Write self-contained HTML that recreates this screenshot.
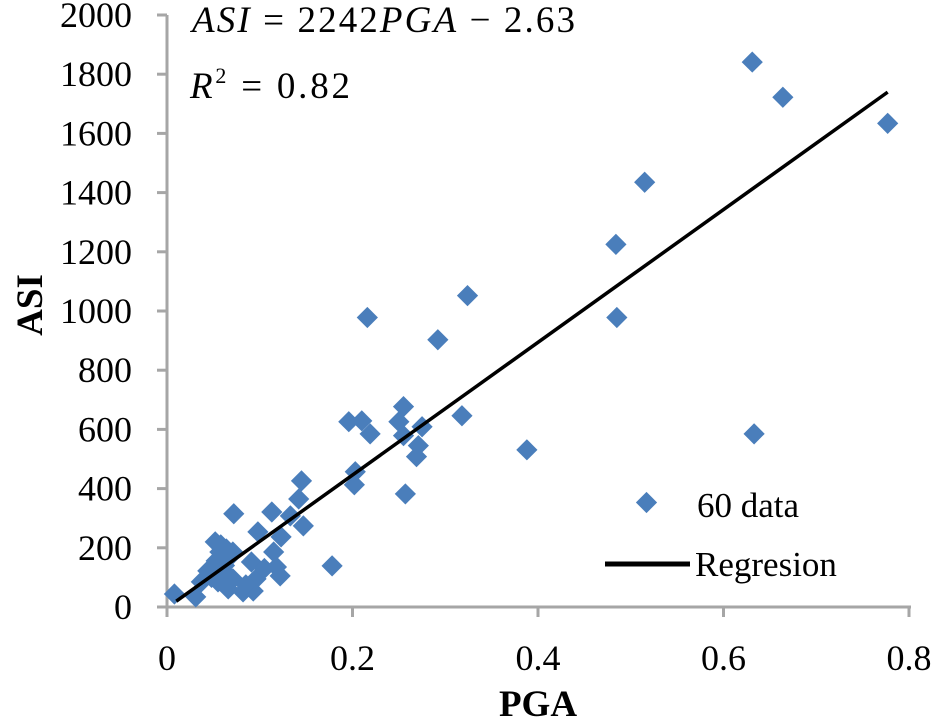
<!DOCTYPE html>
<html><head><meta charset="utf-8"><style>
body{margin:0;background:#fff}
svg text{font-family:"Liberation Serif",serif;fill:#000}
</style></head><body>
<svg width="935" height="720" xmlns="http://www.w3.org/2000/svg">
<g id="axes"></g>
<g id="pts"></g>
<g id="reg"></g>
<text x="192" y="32" font-size="37" font-style="italic" textLength="383" lengthAdjust="spacing">ASI <tspan font-style="normal">= 2242</tspan>PGA<tspan font-style="normal"> − 2.63</tspan></text>
<text x="190" y="98" font-size="37" textLength="160" lengthAdjust="spacing"><tspan font-style="italic">R</tspan><tspan dy="-15" font-size="22">2</tspan><tspan dy="15"> = 0.82</tspan></text>
<text font-size="37" font-weight="bold" text-anchor="middle" transform="translate(42,305) rotate(-90)">ASI</text>
<text x="538" y="716" font-size="37" font-weight="bold" text-anchor="middle">PGA</text>
<g>
<rect x="639" y="495" width="15" height="15" fill="#4a7ebb" transform="rotate(45 646.5 502.5)"/>
<text x="697" y="517" font-size="35">60 data</text>
<line x1="605" y1="564" x2="690" y2="564" stroke="#000" stroke-width="5"/>
<text x="695" y="576" font-size="35">Regresion</text>
</g>
</svg>
<script>
const pga=[0.008,0.031,0.037,0.044,0.052,0.057,0.064,0.071,0.053,0.06,0.066,0.071,0.066,0.055,0.082,0.093,0.096,0.091,0.072,0.098,0.115,0.118,0.122,0.123,0.113,0.133,0.147,0.142,0.145,0.178,0.196,0.21,0.219,0.203,0.202,0.255,0.25,0.255,0.257,0.275,0.271,0.269,0.318,0.292,0.324,0.216,0.388,0.484,0.485,0.515,0.631,0.664,0.777,0.633,0.048,0.062,0.085,0.105,0.068,0.058];
const asi=[44,34,85,122,220,186,196,186,156,122,105,95,61,85,51,54,95,152,315,254,186,135,105,237,321,308,274,365,426,139,626,629,585,457,413,677,626,579,382,609,545,508,646,903,1052,978,531,1225,978,1435,1841,1722,1634,585,100,140,75,130,170,210];
const xTicks=[0,0.2,0.4,0.6,0.8];
const yTicks=[0,200,400,600,800,1000,1200,1400,1600,1800,2000];
const slope=2242, intercept=-2.63, regX=[0.01,0.777];
const X0=167,X1=909,Y0=607,Y1=15;
const sx=v=>X0+(v/0.8)*(X1-X0);
const sy=v=>Y0-(v/2000)*(Y0-Y1);
const NS="http://www.w3.org/2000/svg";
function mk(t,a,p){const e=document.createElementNS(NS,t);for(const k in a)e.setAttribute(k,a[k]);p.appendChild(e);return e;}
const ax=document.getElementById('axes');
let l=mk('line',{x1:X0,y1:Y1,x2:X0,y2:Y0,stroke:'#a6a6a6','stroke-width':3},ax);


l=mk('line',{x1:X0,y1:Y0,x2:X1+2,y2:Y0,stroke:'#a6a6a6','stroke-width':3},ax);


yTicks.forEach(v=>{const y=sy(v);
 const t=mk('line',{x1:X0-10,y1:y,x2:X0,y2:y,stroke:'#a6a6a6','stroke-width':3},ax);
 
 
 const tx=mk('text',{x:132,y:y+12,'font-size':36,'text-anchor':'end'},ax);tx.textContent=v;
 
 
});
xTicks.forEach(v=>{const x=sx(v);
 const t=mk('line',{x1:x,y1:Y0,x2:x,y2:Y0+10,stroke:'#a6a6a6','stroke-width':3},ax);
 
 
 const tx=mk('text',{x:x,y:670,'font-size':36,'text-anchor':'middle'},ax);tx.textContent=v;
 
 
});
const pg=document.getElementById('pts');
pga.forEach((v,i)=>{const x=sx(v),y=sy(asi[i]);
 const r=mk('rect',{x:x-7.5,y:y-7.5,width:15,height:15,fill:'#4a7ebb',transform:`rotate(45 ${x} ${y})`},pg);
 
 
});
const rg=document.getElementById('reg');
const ln=mk('line',{x1:sx(regX[0]),y1:sy(slope*regX[0]+intercept),x2:sx(regX[1]),y2:sy(slope*regX[1]+intercept),stroke:'#000','stroke-width':3.5},rg);


</script>
</body></html>
